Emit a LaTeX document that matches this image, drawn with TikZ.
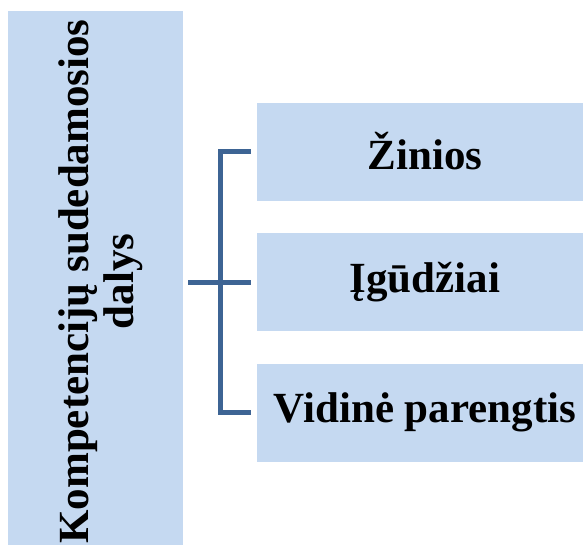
\documentclass[tikz,border=0pt]{standalone}
\usepackage{fontspec}
\setmainfont{Liberation Serif}
\usetikzlibrary{calc}
\definecolor{boxfill}{HTML}{C5D9F1}
\definecolor{linkblue}{HTML}{3D6494}
\tikzset{
  partbox/.style={fill=boxfill, draw=none, inner sep=0pt,
    minimum width=326pt, minimum height=98pt,
    execute at begin node={\hspace*{10pt}},
    font={\bfseries\fontsize{43}{45}\selectfont}},
  link/.style={draw=linkblue, line width=5pt, line join=miter}
}
\begin{document}
\begin{tikzpicture}[x=1pt, y=-1pt]
  \useasboundingbox (0,0) rectangle (584,544);
  % left column, running past the lower edge
  \begin{scope}
    \clip (0,0) rectangle (584,544);
    \node[fill=boxfill, inner sep=0pt, minimum width=175pt, minimum height=541pt]
      (parts) at (95.5,281.5) {};
    \node[rotate=90, align=center, inner sep=0pt,
          font={\bfseries\fontsize{43}{45}\selectfont}]
      (partslabel) at (100.7,281.5) {Kompetencijų sudedamosios\\dalys};
  \end{scope}
  % the three parts
  \node[partbox] (know)  at (420,151.5) {Žinios};
  \node[partbox] (skill) at (420,282) {Įgūdžiai};
  \node[partbox] (att)   at (420,412.5) {Vidinė parengtis};
  % bracket joining the column to the parts
  \coordinate (root) at ($(parts.east |- skill.west)+(5,0)$);
  \coordinate (spine) at (220,0);
  \draw[link] ($(know.west)+(-6,0)$) -- (spine |- know.west)
        -- (spine |- att.west) -- ($(att.west)+(-6,0)$);
  \draw[link] (root) -- ($(skill.west)+(-6,0)$);
\end{tikzpicture}
\end{document}
